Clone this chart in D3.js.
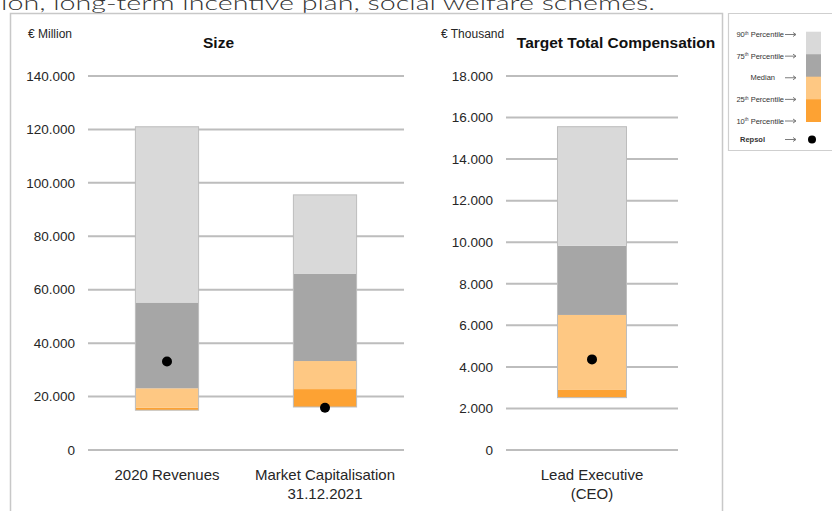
<!DOCTYPE html>
<html>
<head>
<meta charset="utf-8">
<script src="https://cdn.jsdelivr.net/npm/d3@7"></script>
<style>
  body { margin: 0; background: #fff; }
  svg { display: block; font-family: 'Liberation Sans', Arial, sans-serif; }
  .grid line { stroke: #bdbdbd; stroke-width: 2; }
  .tick-label { font-size: 13.5px; fill: #262626; }
  .cat-label { font-size: 15px; fill: #262626; }
  .unit { font-size: 12px; fill: #262626; }
  .title { font-size: 15.5px; font-weight: bold; fill: #111; }
  .legend text { font-size: 7.5px; fill: #333; }
</style>
</head>
<body>
<div id="chart"></div>
<script>
// Left panel: company size (€ million)
const sizeCategories = [['2020 Revenues'], ['Market Capitalisation', '31.12.2021']];
const sizeP10 = [14900, 16100];
const sizeP25 = [15800, 22800];
const sizeMedian = [23100, 33300];
const sizeP75 = [55200, 65900];
const sizeP90 = [121000, 95500];
const sizeRepsol = [33100, 15800];
const sizeTicks = [0, 20000, 40000, 60000, 80000, 100000, 120000, 140000];

// Right panel: target total compensation (€ thousand)
const compCategories = [['Lead Executive', '(CEO)']];
const compP10 = [2520];
const compP25 = [2890];
const compMedian = [6500];
const compP75 = [9830];
const compP90 = [15560];
const compRepsol = [4360];
const compTicks = [0, 2000, 4000, 6000, 8000, 10000, 12000, 14000, 16000, 18000];

const legendItems = ['90th Percentile', '75th Percentile', 'Median', '25th Percentile', '10th Percentile', 'Repsol'];

const colors = {
  p90: '#d9d9d9',
  p75: '#a6a6a6',
  median: '#fec883',
  p25: '#fda233',
};

const width = 832;
const height = 511;

const locale = d3.formatLocale({ decimal: ',', thousands: '.', grouping: [3], currency: ['', ''] });
const fmt = locale.format(',');

const svg = d3.select('#chart').append('svg')
  .attr('width', width)
  .attr('height', height);

// text of the surrounding document, cut by the crop
svg.append('text')
  .attr('x', 1)
  .attr('y', 9.5)
  .attr('textLength', 654)
  .attr('lengthAdjust', 'spacingAndGlyphs')
  .style('font-family', 'Lato, sans-serif')
  .style('font-weight', 300)
  .style('font-size', '20px')
  .attr('fill', '#333')
  .text('ion, long-term incentive plan, social welfare schemes.');

// frames
svg.append('path')
  .attr('d', 'M10.5,512 V13.5 H722.5 V512')
  .attr('fill', 'none')
  .attr('stroke', '#c8c8c8')
  .attr('stroke-width', 1.5);
svg.append('path')
  .attr('d', 'M840,13.5 H728.5 V150.5 H840')
  .attr('fill', 'none')
  .attr('stroke', '#cfcfcf')
  .attr('stroke-width', 1.2);

function panel({ categories, p10, p25, median, p75, p90, repsol, ticks, max, x0, x1, pi, po, unit, unitX, title, titleX }) {
  const g = svg.append('g');
  const y = d3.scaleLinear().domain([0, max]).range([450, 76]);
  const x = d3.scaleBand()
    .domain(categories.map((d, i) => i))
    .range([x0, x1])
    .paddingInner(pi)
    .paddingOuter(po);

  const grid = g.append('g').attr('class', 'grid');
  grid.selectAll('line')
    .data(ticks)
    .join('line')
    .attr('x1', x0)
    .attr('x2', x1)
    .attr('y1', (d) => y(d))
    .attr('y2', (d) => y(d));
  g.append('g').selectAll('text')
    .data(ticks)
    .join('text')
    .attr('class', 'tick-label')
    .attr('x', x0 - 13)
    .attr('y', (d) => y(d))
    .attr('dy', '0.35em')
    .attr('text-anchor', 'end')
    .text((d) => fmt(d));

  const rows = categories.map((c, i) => ({
    i,
    segs: [
      { lo: p10[i], hi: p25[i], c: colors.p25 },
      { lo: p25[i], hi: median[i], c: colors.median },
      { lo: median[i], hi: p75[i], c: colors.p75 },
      { lo: p75[i], hi: p90[i], c: colors.p90 },
    ],
  }));

  const bars = g.append('g').selectAll('g')
    .data(rows)
    .join('g');
  bars.selectAll('rect.seg')
    .data((d) => d.segs.map((s) => ({ ...s, i: d.i })))
    .join('rect')
    .attr('class', 'seg')
    .attr('x', (d) => x(d.i))
    .attr('width', x.bandwidth())
    .attr('y', (d) => y(d.hi))
    .attr('height', (d) => y(d.lo) - y(d.hi))
    .attr('fill', (d) => d.c);
  bars.append('rect')
    .attr('x', (d) => x(d.i))
    .attr('width', x.bandwidth())
    .attr('y', (d) => y(p90[d.i]))
    .attr('height', (d) => y(p10[d.i]) - y(p90[d.i]))
    .attr('fill', 'none')
    .attr('stroke', '#bdbdbd')
    .attr('stroke-width', 1);

  g.append('g').selectAll('circle')
    .data(repsol)
    .join('circle')
    .attr('cx', (d, i) => x(i) + x.bandwidth() / 2)
    .attr('cy', (d) => y(d))
    .attr('r', 5)
    .attr('fill', '#000');

  g.append('g').selectAll('text')
    .data(categories)
    .join('text')
    .attr('class', 'cat-label')
    .attr('text-anchor', 'middle')
    .attr('x', (d, i) => x(i) + x.bandwidth() / 2)
    .attr('y', 480)
    .selectAll('tspan')
    .data((d) => d)
    .join('tspan')
    .attr('x', function () { return this.parentNode.getAttribute('x'); })
    .attr('dy', (d, i) => (i === 0 ? 0 : 19))
    .text((d) => d);

  g.append('text').attr('class', 'unit').attr('x', unitX).attr('y', 38).text(unit);
  g.append('text').attr('class', 'title').attr('x', titleX).attr('y', 48)
    .attr('text-anchor', 'middle').text(title);
}

panel({
  categories: sizeCategories, p10: sizeP10, p25: sizeP25, median: sizeMedian,
  p75: sizeP75, p90: sizeP90, repsol: sizeRepsol, ticks: sizeTicks, max: 140000,
  x0: 88, x1: 404, pi: 0.6, po: 0.3,
  unit: '€ Million', unitX: 28, title: 'Size', titleX: 218.5,
});

panel({
  categories: compCategories, p10: compP10, p25: compP25, median: compMedian,
  p75: compP75, p90: compP90, repsol: compRepsol, ticks: compTicks, max: 18000,
  x0: 506, x1: 678, pi: 0, po: 0.746,
  unit: '€ Thousand', unitX: 441, title: 'Target Total Compensation', titleX: 616,
});

// legend
const lg = svg.append('g').attr('class', 'legend');
const ly = d3.scalePoint().domain(legendItems.slice(0, 5)).range([34.5, 121]);
const swatch = d3.scaleLinear().domain([0, 4]).range([31.7, 121.7]);
const swColors = [colors.p90, colors.p75, colors.median, colors.p25];
lg.selectAll('rect')
  .data(swColors)
  .join('rect')
  .attr('x', 806)
  .attr('width', 15)
  .attr('y', (d, i) => swatch(i))
  .attr('height', swatch(1) - swatch(0) + 0.3)
  .attr('fill', (d) => d);
lg.append('circle').attr('cx', 812).attr('cy', 139.5).attr('r', 4).attr('fill', '#000');

const legendY = (d, i) => (i === 5 ? 139.5 : ly(d));
const labelEnd = [784, 784, 775, 784, 784, 765];
lg.selectAll('text.lab')
  .data(legendItems)
  .join('text')
  .attr('class', 'lab')
  .attr('x', (d, i) => labelEnd[i])
  .attr('y', legendY)
  .attr('dy', '0.35em')
  .attr('text-anchor', 'end')
  .style('font-weight', (d, i) => (i === 5 ? 'bold' : null))
  .each(function (d) {
    const t = d3.select(this);
    const m = d.match(/^(\d+)(th) (.*)$/);
    if (m) {
      t.append('tspan').text(m[1]);
      t.append('tspan').attr('dy', '-2.5').style('font-size', '4.5px').text(m[2]);
      t.append('tspan').attr('dy', '2.5').text(' ' + m[3]);
    } else {
      t.text(d);
    }
  });
lg.selectAll('g.arrow')
  .data(legendItems)
  .join('g')
  .attr('class', 'arrow')
  .attr('transform', (d, i) => `translate(785,${legendY(d, i)})`)
  .call((a) => {
    a.append('line').attr('x1', 0).attr('x2', 10).attr('stroke', '#444').attr('stroke-width', 0.7);
    a.append('path').attr('d', 'M8,-2 L11,0 L8,2').attr('fill', 'none').attr('stroke', '#444').attr('stroke-width', 0.7);
  });
</script>
</body>
</html>
